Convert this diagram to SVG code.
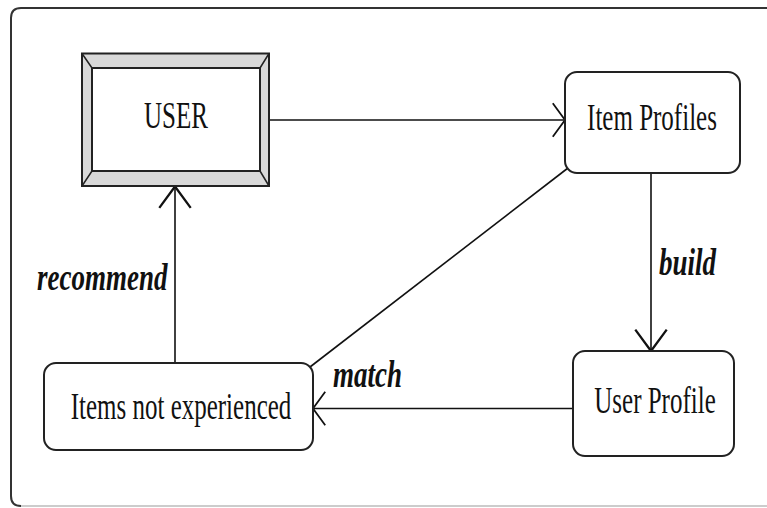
<svg xmlns="http://www.w3.org/2000/svg" width="767" height="508" viewBox="0 0 767 508">
<style>
.box{fill:#fff;stroke:#222;stroke-width:2}
.lbl{font-family:"Liberation Serif","Times New Roman",serif;font-size:25px;fill:#111;text-anchor:middle}
.edge{font-family:"Liberation Serif","Times New Roman",serif;font-size:27px;font-weight:bold;font-style:italic;fill:#111;text-anchor:start}
.conn{fill:none;stroke:#111;stroke-width:1.6}
</style>
<defs>
<marker id="arrH" markerUnits="userSpaceOnUse" markerWidth="30" markerHeight="40" refX="0" refY="0" viewBox="-14 -18 16 36" orient="auto" overflow="visible">
<path d="M-11,-15 L0,0 L-11,15" fill="none" stroke="#111" stroke-width="1.6"/>
</marker>
<marker id="arrV" markerUnits="userSpaceOnUse" markerWidth="30" markerHeight="40" refX="0" refY="0" viewBox="-18 -14 20 28" orient="auto" overflow="visible">
<path d="M-15,-11 L0,0 L-15,11" fill="none" stroke="#111" stroke-width="1.6"/>
</marker>
</defs>
<rect width="767" height="508" fill="#fff"/>
<path d="M790,8 H21 Q11,8 11,18 V496 Q11,506 21,506" fill="none" stroke="#333" stroke-width="2"/>
<path d="M21,506 H790" fill="none" stroke="#bbb" stroke-width="1.5"/>

<g id="connectors">
<path class="conn" d="M269,120 H565" marker-end="url(#arrH)"/>
<path class="conn" d="M651,173 V351" marker-end="url(#arrV)"/>
<path class="conn" d="M573,408.5 H313" marker-end="url(#arrH)"/>
<path class="conn" d="M175,363 V186.5" marker-end="url(#arrV)"/>
<path class="conn" d="M310,367 L568,168"/>
<g transform="translate(37,290) scale(1,1.4)"><text class="edge" x="0" y="0">recommend</text></g>
<g transform="translate(659,275) scale(1,1.4)"><text class="edge" x="0" y="0">build</text></g>
<g transform="translate(333,387) scale(1,1.4)"><text class="edge" x="0" y="0">match</text></g>
</g>

<g id="user">
<rect x="82" y="53.5" width="187" height="132.5" fill="#d9d9d9" stroke="#222" stroke-width="2"/>
<path d="M82,53.5 L92,68 M269,53.5 L260,68 M82,186 L92,171 M269,186 L260,171" stroke="#222" stroke-width="1.5"/>
<rect x="92" y="68" width="168" height="103" fill="#fff" stroke="#222" stroke-width="2"/>
<g transform="translate(176,128) scale(1,1.55)"><text class="lbl" x="0" y="0">USER</text></g>
</g>

<g id="item-profiles">
<rect class="box" x="565" y="72" width="175" height="101" rx="12" ry="12"/>
<g transform="translate(652,130) scale(1,1.55)"><text class="lbl" x="0" y="0">Item Profiles</text></g>
</g>

<g id="user-profile">
<rect class="box" x="573" y="351" width="161" height="105" rx="12" ry="12"/>
<g transform="translate(655,413) scale(1,1.55)"><text class="lbl" x="0" y="0">User Profile</text></g>
</g>

<g id="items-not-experienced">
<rect class="box" x="44" y="363" width="269" height="87" rx="12" ry="12"/>
<g transform="translate(181,419) scale(1,1.55)"><text class="lbl" x="0" y="0">Items not experienced</text></g>
</g>
</svg>
